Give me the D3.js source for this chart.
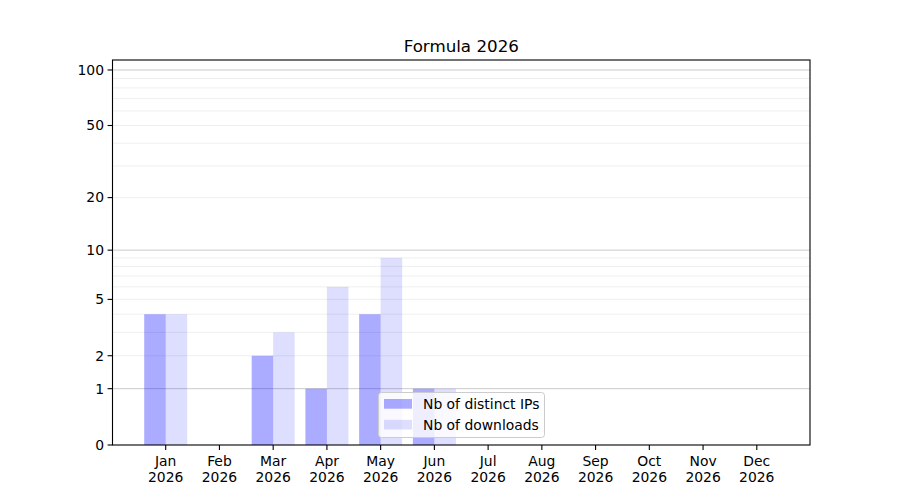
<!DOCTYPE html>
<html><head><meta charset="utf-8">
<script src="https://cdn.jsdelivr.net/npm/d3@7"></script>
<style>body{margin:0;background:#fff}svg{display:block;font-family:"DejaVu Sans",sans-serif}</style>
</head><body><svg id="c" width="900" height="500"></svg>
<script>
const months = ["Jan","Feb","Mar","Apr","May","Jun","Jul","Aug","Sep","Oct","Nov","Dec"];
const yearLabel = "2026";
const distinctIPs = [4,0,2,1,4,1,0,0,0,0,0,0];
const downloads   = [4,0,3,6,9,1,0,0,0,0,0,0];
const yTicks = [0,1,2,5,10,20,50,100];
const majorGrid = [1,10,100];
const minorGrid = [2,3,4,5,6,7,8,9,20,30,40,50,60,70,80,90];
const seriesNames = ["Nb of distinct IPs","Nb of downloads"];
const title = "Formula 2026";

const svg = d3.select("#c");
const L=112.5, R=810, T=60, B=445;
const x = d3.scaleLinear().domain([-0.99, 11.99]).range([L,R]);
const y = d3.scaleSymlog().constant(1).domain([0,113.2]).range([B,T]);
const bw = 0.4;

// grid
svg.append("g").selectAll("line").data(minorGrid).join("line")
  .attr("x1",L).attr("x2",R).attr("y1",d=>y(d)).attr("y2",d=>y(d))
  .attr("stroke","#ebebeb").attr("stroke-width",0.8);
svg.append("g").selectAll("line").data(majorGrid).join("line")
  .attr("x1",L).attr("x2",R).attr("y1",d=>y(d)).attr("y2",d=>y(d))
  .attr("stroke","#cbcbcb").attr("stroke-width",1);

// bars
svg.append("g").selectAll("rect").data(distinctIPs).join("rect")
  .attr("x",(d,i)=>x(i-bw)).attr("width",(d,i)=>x(i)-x(i-bw))
  .attr("y",d=>y(d)).attr("height",d=>B-y(d))
  .attr("fill","#0000ff").attr("fill-opacity",0.33);
svg.append("g").selectAll("rect").data(downloads).join("rect")
  .attr("x",(d,i)=>x(i)).attr("width",(d,i)=>x(i+bw)-x(i))
  .attr("y",d=>y(d)).attr("height",d=>B-y(d))
  .attr("fill","#0000ff").attr("fill-opacity",0.13);

// frame
svg.append("rect").attr("x",L).attr("y",T).attr("width",R-L).attr("height",B-T)
  .attr("fill","none").attr("stroke","#000").attr("stroke-width",1.1);

// y axis
const yg = svg.append("g");
yTicks.forEach(t=>{
  yg.append("line").attr("x1",L-4.9).attr("x2",L).attr("y1",y(t)).attr("y2",y(t)).attr("stroke","#000").attr("stroke-width",1.1);
  yg.append("text").attr("x",L-8.5).attr("y",y(t)).attr("dy","0.35em").attr("text-anchor","end")
    .attr("font-size",13.9).text(t);
});
// x axis
const xg = svg.append("g");
months.forEach((m,i)=>{
  xg.append("line").attr("x1",x(i)).attr("x2",x(i)).attr("y1",B).attr("y2",B+4.9).attr("stroke","#000").attr("stroke-width",1.1);
  xg.append("text").attr("x",x(i)).attr("y",466).attr("text-anchor","middle").attr("font-size",13.9).text(m);
  xg.append("text").attr("x",x(i)).attr("y",482).attr("text-anchor","middle").attr("font-size",13.9).text(yearLabel);
});

// title
svg.append("text").attr("x",(L+R)/2).attr("y",52).attr("text-anchor","middle").attr("font-size",16.7).text(title);

// legend
const lg = svg.append("g");
lg.append("rect").attr("x",378.5).attr("y",392.5).attr("width",166).attr("height",45).attr("rx",3)
  .attr("fill","#fff").attr("fill-opacity",0.8).attr("stroke","#cccccc").attr("stroke-width",1);
const opac=[0.33,0.13];
seriesNames.forEach((n,k)=>{
  const cy = 404 + k*20.8;
  lg.append("rect").attr("x",384).attr("y",cy-5).attr("width",28).attr("height",9.7)
    .attr("fill","#0000ff").attr("fill-opacity",opac[k]);
  lg.append("text").attr("x",423).attr("y",cy).attr("dy","0.35em").attr("font-size",13.9).text(n);
});
</script></body></html>
